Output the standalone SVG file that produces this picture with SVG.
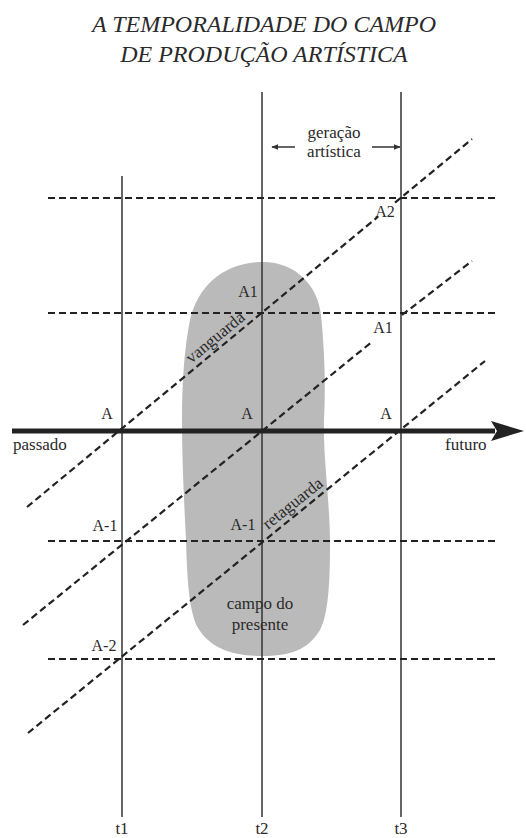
<svg xmlns="http://www.w3.org/2000/svg" width="526" height="838" viewBox="0 0 526 838">
<defs>
<style>
text{font-family:"Liberation Serif","Times New Roman","DejaVu Serif",serif;fill:#2a2a2a}
.title{font-size:24px;font-style:italic;text-anchor:middle}
.lbl{font-size:16px;text-anchor:middle}
.wd{font-size:17px}
.vl{stroke:#333;stroke-width:1.5;fill:none}
.dash{stroke:#222;stroke-width:2.2;stroke-dasharray:7 4;fill:none}
</style>
<marker id="sa" viewBox="0 0 10 10" refX="9" refY="5" markerWidth="7" markerHeight="7" markerUnits="userSpaceOnUse" orient="auto">
<path d="M0,1 L10,5 L0,9 Z" fill="#333"/>
</marker>
</defs>
<rect width="526" height="838" fill="#fff"/>

<g id="title">
<text class="title" x="264" y="32">A TEMPORALIDADE DO CAMPO</text>
<text class="title" x="264" y="62">DE PRODUÇÃO ARTÍSTICA</text>
</g>

<g id="campo-presente">
<path d="M263,262 C296,262 318,286 321,315 C324,345 326,380 324,420 C323,460 330,500 330,545 C330,585 328,615 320,630 C308,650 290,656 262,656 C232,656 210,648 198,628 C188,610 187,570 186,540 C184,500 182,460 182,420 C182,385 184,350 190,320 C198,285 225,262 263,262 Z" fill="#bababa"/>
<text class="wd" x="260" y="609" text-anchor="middle">campo do</text>
<text class="wd" x="260" y="630" text-anchor="middle">presente</text>
</g>

<g id="time-lines">
<line class="vl" x1="122" y1="176" x2="122" y2="817"/>
<line class="vl" x1="262" y1="92" x2="262" y2="817"/>
<line class="vl" x1="401" y1="92" x2="401" y2="817"/>
</g>

<g id="levels">
<line class="dash" x1="48" y1="198" x2="496" y2="198"/>
<line class="dash" x1="48" y1="313" x2="496" y2="313"/>
<line class="dash" x1="48" y1="541" x2="496" y2="541"/>
<line class="dash" x1="48" y1="659" x2="496" y2="659"/>
</g>

<g id="connectors">
<line class="dash" x1="27" y1="507" x2="378" y2="216.7"/>
<line class="dash" x1="395" y1="202.6" x2="472" y2="139"/>
<line class="dash" x1="23" y1="625" x2="373" y2="341"/>
<line class="dash" x1="402" y1="315" x2="472" y2="261"/>
<line class="dash" x1="28" y1="733" x2="485" y2="361"/>
<line x1="12" y1="431" x2="495" y2="431" stroke="#222" stroke-width="5"/>
<polygon points="524,431 491,421 497,431 491,441" fill="#222"/>
<line x1="295" y1="147" x2="272" y2="147" stroke="#333" stroke-width="1.5" marker-end="url(#sa)"/>
<line x1="372" y1="147" x2="400" y2="147" stroke="#333" stroke-width="1.5" marker-end="url(#sa)"/>
</g>

<g id="labels">
<text class="wd" x="334" y="138" text-anchor="middle">geração</text>
<text class="wd" x="334" y="157" text-anchor="middle">artística</text>
<text class="lbl" x="385" y="217">A2</text>
<text class="lbl" x="248" y="297">A1</text>
<text class="lbl" x="383" y="333">A1</text>
<text class="lbl" x="107" y="419">A</text>
<text class="lbl" x="247" y="419">A</text>
<text class="lbl" x="386" y="419">A</text>
<text class="lbl" x="105" y="531">A-1</text>
<text class="lbl" x="243" y="530">A-1</text>
<text class="lbl" x="104" y="651">A-2</text>
<text class="wd" x="13" y="450">passado</text>
<text class="wd" x="445" y="450">futuro</text>
<text class="wd" x="246" y="319" text-anchor="end" transform="rotate(-39.5 246 319)">vanguarda</text>
<text class="wd" x="268" y="530" transform="rotate(-38.5 268 530)">retaguarda</text>
<text class="wd" x="122" y="834" text-anchor="middle">t1</text>
<text class="wd" x="262" y="834" text-anchor="middle">t2</text>
<text class="wd" x="401" y="834" text-anchor="middle">t3</text>
</g>
</svg>
